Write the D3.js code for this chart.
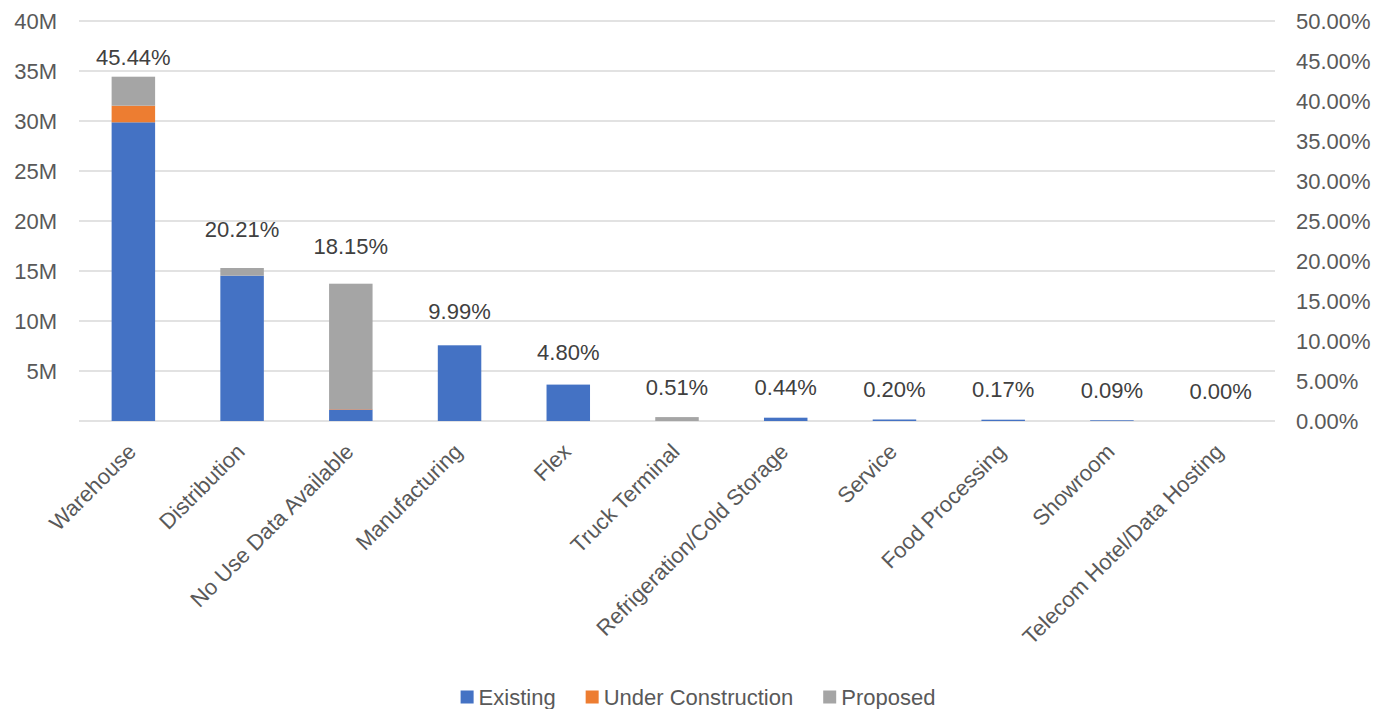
<!DOCTYPE html>
<html><head><meta charset="utf-8">
<script src="https://cdn.jsdelivr.net/npm/d3@7"></script>
<style>
html,body{margin:0;padding:0;background:#fff;}
text{font-family:"Liberation Sans",Arial,sans-serif;}
</style></head>
<body><svg id="chart" width="1387" height="709"></svg>
<script>
const categories = ["Warehouse","Distribution","No Use Data Available","Manufacturing","Flex","Truck Terminal","Refrigeration/Cold Storage","Service","Food Processing","Showroom","Telecom Hotel/Data Hosting"];
const existing = [29.87e6, 14.53e6, 1.15e6, 7.57e6, 3.64e6, 0, 0.33e6, 0.15e6, 0.13e6, 0.07e6, 0.002e6];
const underConstruction = [1.66e6, 0, 0.05e6, 0, 0, 0, 0, 0, 0, 0, 0];
const proposed = [2.9e6, 0.77e6, 12.53e6, 0, 0, 0.39e6, 0, 0, 0, 0, 0];
const shares = [45.44, 20.21, 18.15, 9.99, 4.80, 0.51, 0.44, 0.20, 0.17, 0.09, 0.00];
const leftTicks = [0, 5e6, 10e6, 15e6, 20e6, 25e6, 30e6, 35e6, 40e6];
const rightTicks = [0, 5, 10, 15, 20, 25, 30, 35, 40, 45, 50];
const seriesNames = ["Existing","Under Construction","Proposed"];
const colors = ["#4472c4","#ed7d31","#a5a5a5"];

const svg = d3.select("#chart");
const M = {left:79, right:1275, top:21, bottom:421};
const x = d3.scaleBand().domain(categories).range([M.left, M.right]).paddingInner(0.6).paddingOuter(0.3);
const y = d3.scaleLinear().domain([0, 40e6]).range([M.bottom, M.top]);
const yR = d3.scaleLinear().domain([0, 50]).range([M.bottom, M.top]);

// gridlines
svg.append("g").selectAll("line").data(leftTicks).join("line")
  .attr("x1", M.left).attr("x2", M.right)
  .attr("y1", d=>y(d)).attr("y2", d=>y(d))
  .attr("stroke", "#d9d9d9").attr("stroke-width", 1.6);

// left axis
const gL = svg.append("g").attr("transform", `translate(${M.left},0)`)
  .call(d3.axisLeft(y).tickValues(leftTicks).tickSize(0).tickPadding(22)
    .tickFormat(d => d === 0 ? "" : (d/1e6) + "M"));
gL.select(".domain").remove();
gL.selectAll("text").attr("font-size", 22).attr("fill", "#595959").attr("font-family", '"Liberation Sans",Arial,sans-serif');

// right axis
const gR = svg.append("g").attr("transform", `translate(${M.right},0)`)
  .call(d3.axisRight(yR).tickValues(rightTicks).tickSize(0).tickPadding(21)
    .tickFormat(d => d.toFixed(2) + "%"));
gR.select(".domain").remove();
gR.selectAll("text").attr("font-size", 22).attr("fill", "#595959").attr("font-family", '"Liberation Sans",Arial,sans-serif');

// stacked bars
const rows = categories.map((c,i) => ({cat:c, Existing:existing[i], "Under Construction":underConstruction[i], Proposed:proposed[i]}));
const stack = d3.stack().keys(seriesNames)(rows);
svg.append("g").selectAll("g").data(stack).join("g")
  .attr("fill", (d,i) => colors[i])
  .selectAll("rect").data(d => d.map(v => ({v, cat:v.data.cat}))).join("rect")
  .attr("x", d => x(d.cat)).attr("width", x.bandwidth())
  .attr("y", d => y(d.v[1])).attr("height", d => Math.max(0, y(d.v[0]) - y(d.v[1])));

// share labels (from hidden right-axis series)
svg.append("g").selectAll("text").data(shares).join("text")
  .attr("x", (d,i) => x(categories[i]) + x.bandwidth()/2)
  .attr("y", d => { const p = yR(d); return (p - 30 - 11 < M.top) ? p : p - 30; })
  .attr("dy", "0.35em").attr("text-anchor", "middle")
  .attr("font-size", 22).attr("fill", "#404040")
  .text(d => d.toFixed(2) + "%");

// category labels
svg.append("g").selectAll("text").data(categories).join("text")
  .attr("transform", d => `translate(${x(d) + x.bandwidth()/2 + 4},453) rotate(-45)`)
  .attr("text-anchor", "end").attr("font-size", 22).attr("fill", "#595959")
  .text(d => d);

// legend
const lg = svg.append("g").attr("transform", "translate(0,697)");
let cx = 0;
const items = lg.selectAll("g").data(seriesNames).join("g");
items.append("rect").attr("width", 13).attr("height", 13).attr("y", -6.5).attr("fill", (d,i)=>colors[i]);
items.append("text").attr("x", 18).attr("dy", "0.35em").attr("font-size", 22).attr("fill", "#595959").text(d=>d);
items.each(function(){
  const w = 18 + d3.select(this).select("text").node().getComputedTextLength();
  d3.select(this).attr("transform", `translate(${cx},0)`);
  cx += w + 30;
});
const total = cx - 30;
lg.attr("transform", `translate(${698 - total/2},697)`);
</script></body></html>
